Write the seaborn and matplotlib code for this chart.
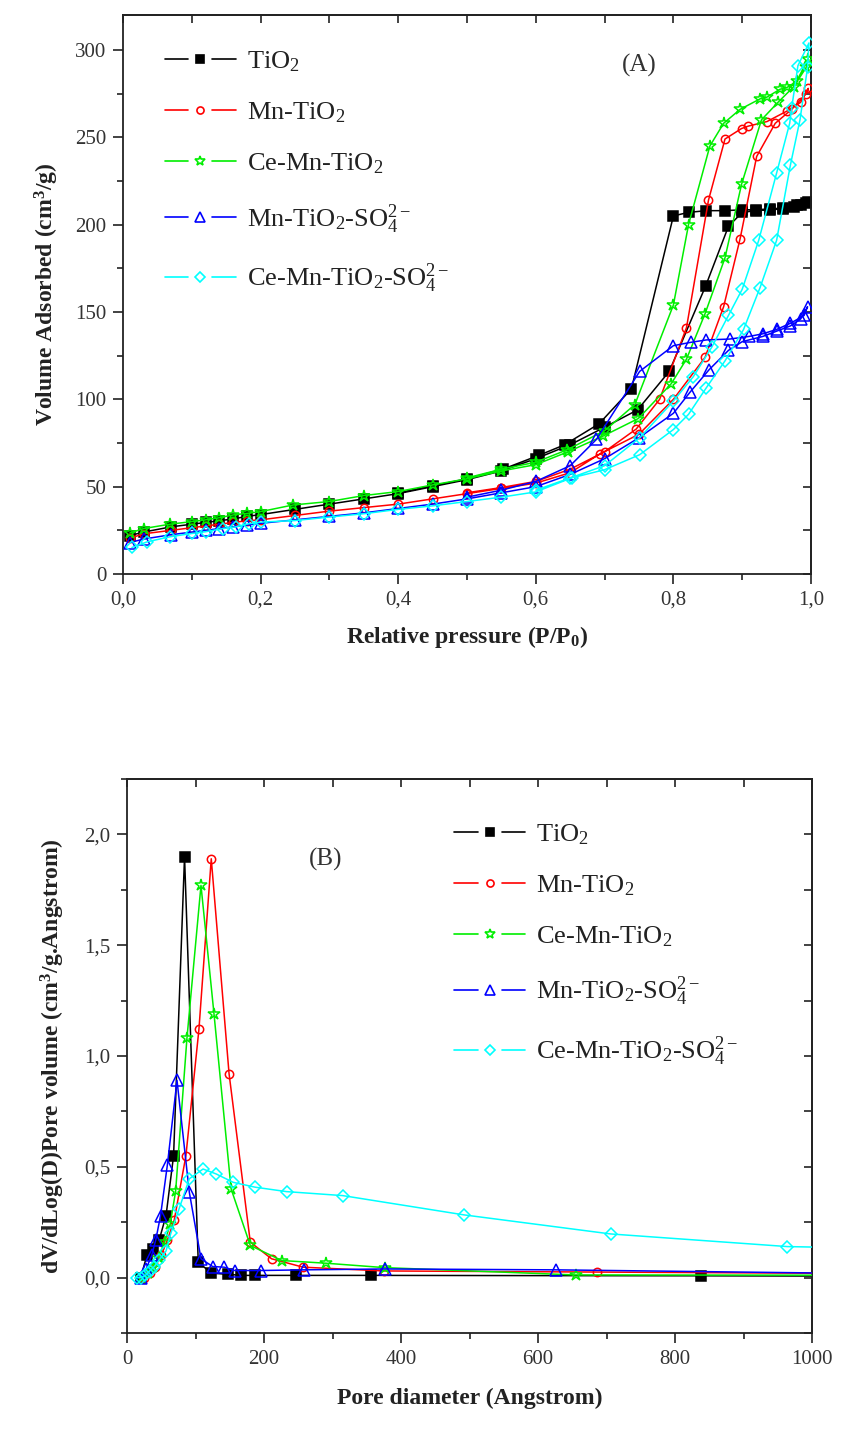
import matplotlib
matplotlib.use("Agg")
import matplotlib.pyplot as plt
import numpy as np
import pandas as pd
import seaborn as sns
from matplotlib.lines import Line2D
from matplotlib.legend_handler import HandlerBase
from matplotlib.ticker import MultipleLocator, FuncFormatter

# ---------------- DATA ----------------
labels = ["TiO$_2$", "Mn-TiO$_2$", "Ce-Mn-TiO$_2$",
          "Mn-TiO$_2$-SO$_4^{2-}$", "Ce-Mn-TiO$_2$-SO$_4^{2-}$"]

# Panel A: N2 isotherms (adsorption branch followed by desorption branch)
p_tio2 = [0.01, 0.03, 0.07, 0.10, 0.12, 0.14, 0.16, 0.18, 0.20, 0.25, 0.30, 0.35, 0.40, 0.45, 0.50,
          0.55, 0.60, 0.65, 0.70, 0.748, 0.794, 0.847, 0.88, 0.90, 0.92, 0.94, 0.96, 0.975, 0.985, 0.993,
          0.995, 0.98, 0.96, 0.94, 0.92, 0.90, 0.875, 0.848, 0.822, 0.80, 0.739, 0.692, 0.642, 0.605,
          0.552, 0.50, 0.45, 0.40]
v_tio2 = [22, 24, 27, 28.5, 29.5, 30.5, 31.5, 33, 34, 37, 40, 43, 46, 50, 54,
          59, 66, 74, 84, 94, 116, 165, 199, 207, 208, 208.5, 209, 210, 211, 212.5,
          213, 211, 209.5, 209, 208.5, 208.5, 208, 208, 207, 205, 106, 86, 74, 68,
          60, 54.5, 50.5, 46.5]

p_mn = [0.01, 0.03, 0.07, 0.10, 0.12, 0.14, 0.16, 0.18, 0.20, 0.25, 0.30, 0.35, 0.40, 0.45, 0.50,
        0.55, 0.60, 0.65, 0.693, 0.75, 0.80, 0.846, 0.873, 0.897, 0.921, 0.948, 0.972, 0.993,
        0.996, 0.985, 0.965, 0.936, 0.909, 0.899, 0.875, 0.851, 0.819, 0.78, 0.746, 0.70, 0.65,
        0.60, 0.55, 0.50]
v_mn = [20.5, 23, 25, 26.5, 27.5, 28.5, 29.5, 30.5, 31, 33.5, 36, 38, 40, 43, 46,
        49, 52, 58, 68.7, 80, 100, 124, 153, 192, 239, 258, 266, 275,
        278, 270, 265, 259, 256.4, 255, 249, 214, 141, 100, 83, 70, 60,
        53, 49.5, 46.5]

p_cemn = [0.01, 0.03, 0.068, 0.10, 0.12, 0.14, 0.16, 0.18, 0.20, 0.247, 0.30, 0.35, 0.40, 0.45, 0.50,
          0.55, 0.60, 0.647, 0.698, 0.749, 0.797, 0.819, 0.846, 0.875, 0.899, 0.928, 0.952, 0.975, 0.993,
          0.996, 0.979, 0.965, 0.955, 0.936, 0.926, 0.897, 0.873, 0.853, 0.822, 0.80, 0.744, 0.70,
          0.645, 0.60, 0.55, 0.50]
v_cemn = [23.5, 26, 28.5, 30, 31, 32.2, 33.8, 34.7, 35.7, 39.5, 41.5, 44.9, 47.2, 51, 54.5,
          59, 62.6, 70, 79, 89, 109, 123, 149, 181, 223, 260, 270, 279, 290,
          295, 282, 278.5, 277.5, 273, 272, 266, 258, 245, 200, 154, 97, 82,
          71, 64, 60, 55]

p_mnso4 = [0.01, 0.03, 0.07, 0.10, 0.12, 0.14, 0.16, 0.18, 0.20, 0.25, 0.30, 0.35, 0.40, 0.45, 0.50,
           0.55, 0.60, 0.65, 0.70, 0.75, 0.80, 0.824, 0.852, 0.88, 0.90, 0.93, 0.95, 0.97, 0.985, 0.995,
           0.99, 0.97, 0.95, 0.93, 0.91, 0.882, 0.848, 0.825, 0.80, 0.751, 0.688, 0.65, 0.60, 0.55, 0.50]
v_mnso4 = [18, 20, 22.5, 24, 25, 26, 27, 28, 29, 31, 33, 35, 37.5, 40, 43,
           46.5, 50, 57, 66, 78, 92, 104, 117, 128, 133, 136, 139, 142, 146, 153,
           148, 143.5, 140, 137.5, 136, 134.5, 134, 132.6, 130.7, 116, 77, 62, 53, 48, 44]

p_cemnso4 = [0.013, 0.035, 0.068, 0.10, 0.12, 0.145, 0.164, 0.183, 0.20, 0.25, 0.30, 0.35, 0.40, 0.45,
             0.50, 0.55, 0.60, 0.652, 0.70, 0.751, 0.80, 0.822, 0.848, 0.875, 0.902, 0.926, 0.95, 0.97,
             0.984, 0.995, 0.997, 0.981, 0.972, 0.969, 0.95, 0.924, 0.90, 0.88, 0.856, 0.829, 0.80,
             0.751, 0.70, 0.65, 0.60]
v_cemnso4 = [15.2, 18.4, 21.3, 23.2, 24.2, 26, 27, 28.8, 29.7, 30.6, 32.6, 34.5, 37, 39,
             41.5, 44, 47, 55, 59.7, 68.3, 82.7, 91.4, 106.7, 122, 140, 164, 191, 234,
             260, 290, 304, 291, 267, 258, 229.5, 191, 163, 148, 130, 113, 99,
             78, 62, 55, 48]

# Panel B: BJH pore size distributions
d_tio2 = [20, 29, 38, 47, 57, 68, 84, 104, 123, 147, 167, 187, 246, 356, 838, 1300]
y_tio2 = [0.0, 0.10, 0.13, 0.17, 0.28, 0.55, 1.90, 0.07, 0.02, 0.015, 0.01, 0.01, 0.01, 0.01, 0.008, 0.005]

d_mn = [25, 33, 41, 50, 59, 69, 86, 105, 123, 149, 180, 211, 257, 375, 686, 1300]
y_mn = [0.0, 0.02, 0.05, 0.10, 0.17, 0.26, 0.55, 1.12, 1.89, 0.92, 0.16, 0.085, 0.047, 0.03, 0.025, 0.015]

d_cemn = [22, 30, 38, 46, 55, 63, 71, 87.5, 108, 127, 152, 180, 226, 290, 376, 655, 1300]
y_cemn = [0.0, 0.02, 0.05, 0.09, 0.16, 0.24, 0.39, 1.08, 1.77, 1.19, 0.40, 0.145, 0.077, 0.065, 0.045, 0.012, 0.01]

d_mnso4 = [20, 28, 36, 42, 49, 59, 73, 91, 108, 125, 142, 157, 195, 258, 376, 626, 1300]
y_mnso4 = [0.0, 0.04, 0.10, 0.17, 0.28, 0.51, 0.89, 0.385, 0.085, 0.05, 0.047, 0.032, 0.032, 0.035, 0.039, 0.035, 0.01]

d_cemnso4 = [14, 20, 27, 33, 40, 47, 57, 64, 76, 91, 111, 130, 155, 187, 233, 315, 492, 706, 964, 1300]
y_cemnso4 = [0.0, 0.0, 0.01, 0.03, 0.05, 0.08, 0.12, 0.20, 0.31, 0.446, 0.49, 0.468, 0.43, 0.408, 0.388,
             0.37, 0.283, 0.197, 0.14, 0.12]

# ---------------- STYLE ----------------
sns.set_theme(style="ticks")
plt.rcParams["font.family"] = ["Liberation Serif", "DejaVu Serif"]
plt.rcParams["mathtext.fontset"] = "custom"
plt.rcParams["mathtext.rm"] = "Liberation Serif"
plt.rcParams["mathtext.it"] = "Liberation Serif:italic"
plt.rcParams["mathtext.bf"] = "Liberation Serif:bold"

colors = ["#000000", "#ff0000", "#00ee00", "#0000ff", "#00ffff"]
markers = ["s", "o", "*", "^", "D"]
msizes = [6.5, 6.0, 9.0, 8.0, 6.5]
filled = [True, False, False, False, False]

iso = [(p_tio2, v_tio2), (p_mn, v_mn), (p_cemn, v_cemn), (p_mnso4, v_mnso4), (p_cemnso4, v_cemnso4)]
psd = [(d_tio2, y_tio2), (d_mn, y_mn), (d_cemn, y_cemn), (d_mnso4, y_mnso4), (d_cemnso4, y_cemnso4)]


class GapHandler(HandlerBase):
    def create_artists(self, legend, orig, xdescent, ydescent, width, height, fontsize, trans):
        y = height / 2.0 - ydescent
        x0 = -xdescent
        gap = width * 0.17
        kw = dict(color=orig.get_color(), lw=1.2)
        l1 = Line2D([x0, x0 + width / 2 - gap], [y, y], **kw)
        l2 = Line2D([x0 + width / 2 + gap, x0 + width], [y, y], **kw)
        m = Line2D([x0 + width / 2], [y], ls="none", marker=orig.get_marker(),
                   markersize=orig.get_markersize() * 0.85, markerfacecolor=orig.get_markerfacecolor(),
                   markeredgecolor=orig.get_markeredgecolor(), markeredgewidth=1.2)
        for a in (l1, l2, m):
            a.set_transform(trans)
        return [l1, l2, m]


W, H = 843, 1429
fig = plt.figure(figsize=(W / 100, H / 100), dpi=100)
axA = fig.add_axes([123 / W, 1 - 574 / H, (811 - 123) / W, (574 - 15) / H])
axB = fig.add_axes([127 / W, 1 - 1333 / H, (812 - 127) / W, (1333 - 779) / H])


def draw(ax, series):
    handles = []
    for i, (xs, ys) in enumerate(series):
        df = pd.DataFrame({"x": xs, "y": ys})
        sns.lineplot(data=df, x="x", y="y", ax=ax, sort=False, estimator=None,
                     color=colors[i], lw=1.1, marker=markers[i], markersize=msizes[i],
                     markerfacecolor=colors[i] if filled[i] else "none",
                     markeredgecolor=colors[i], markeredgewidth=1.1, zorder=2 + i)
        handles.append(ax.lines[-1])
    return handles


hA = draw(axA, iso)
hB = draw(axB, psd)

comma1 = FuncFormatter(lambda v, p: f"{v:.1f}".replace(".", ","))
intfmt = FuncFormatter(lambda v, p: f"{v:.0f}")


def style_axes(ax, xmaj, xmin, ymaj, ymin, xfmt, yfmt):
    ax.xaxis.set_major_locator(MultipleLocator(xmaj))
    ax.xaxis.set_minor_locator(MultipleLocator(xmin))
    ax.yaxis.set_major_locator(MultipleLocator(ymaj))
    ax.yaxis.set_minor_locator(MultipleLocator(ymin))
    ax.xaxis.set_major_formatter(xfmt)
    ax.yaxis.set_major_formatter(yfmt)
    ax.tick_params(which="major", direction="out", length=7, width=1.2, labelsize=15,
                   labelcolor="#333333", color="#222222", pad=5)
    ax.tick_params(which="minor", direction="out", length=4, width=1.2, color="#222222")
    for s in ax.spines.values():
        s.set_linewidth(1.3)
        s.set_color("#222222")
        s.set_visible(True)
    top = ax.secondary_xaxis("top")
    top.xaxis.set_major_locator(MultipleLocator(xmin))
    top.tick_params(direction="in", length=6, width=1.2, labeltop=False, color="#222222")
    top.spines["top"].set_linewidth(1.3)
    right = ax.secondary_yaxis("right")
    right.yaxis.set_major_locator(MultipleLocator(ymin))
    right.tick_params(direction="in", length=6, width=1.2, labelright=False, color="#222222")
    right.spines["right"].set_linewidth(1.3)


axA.set_xlim(0, 1.0)
axA.set_ylim(0, 320)
style_axes(axA, 0.2, 0.1, 50, 25, comma1, intfmt)
axA.set_xlabel("Relative pressure (P/P$_\\mathbf{0}$)", fontsize=17, fontweight="bold",
               color="#222222", labelpad=10)
axA.set_ylabel("Volume Adsorbed (cm$^\\mathbf{3}$/g)", fontsize=17, fontweight="bold",
               color="#222222", labelpad=10)
axA.text(0.75, 0.91, "(A)", transform=axA.transAxes, fontsize=18, color="#333333",
         ha="center", va="center")

axB.set_xlim(0, 1000)
axB.set_ylim(-0.25, 2.25)
style_axes(axB, 200, 100, 0.5, 0.25, intfmt, comma1)
axB.set_xlabel("Pore diameter (Angstrom)", fontsize=17, fontweight="bold",
               color="#222222", labelpad=14)
axB.set_ylabel("dV/dLog(D)Pore volume (cm$^\\mathbf{3}$/g.Angstrom)", fontsize=17,
               fontweight="bold", color="#222222", labelpad=12)
axB.text(0.29, 0.855, "(B)", transform=axB.transAxes, fontsize=18, color="#333333",
         ha="center", va="center")

legkw = dict(frameon=False, fontsize=19, handlelength=2.7, handletextpad=0.4,
             labelspacing=1.0, borderpad=0.2, borderaxespad=0.0,
             handler_map={Line2D: GapHandler()})
legA = axA.legend(hA, labels, loc="upper left", bbox_to_anchor=(0.053, 0.948), **legkw)
legB = axB.legend(hB, labels, loc="upper left", bbox_to_anchor=(0.47, 0.932), **legkw)
for lg in (legA, legB):
    for t in lg.get_texts():
        t.set_color("#222222")

fig.savefig("out.png", dpi=100)
